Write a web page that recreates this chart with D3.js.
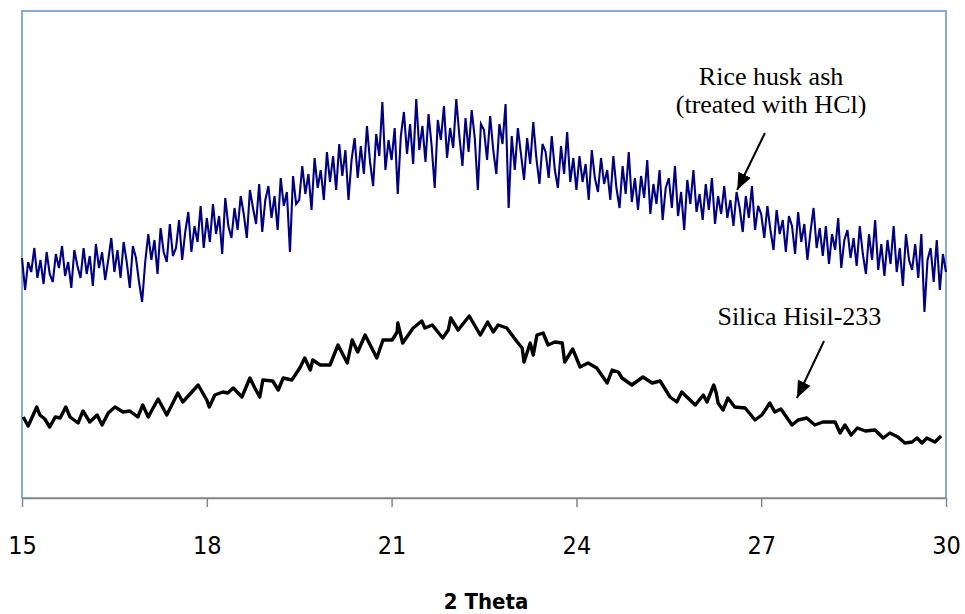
<!DOCTYPE html>
<html>
<head>
<meta charset="utf-8">
<script src="https://cdn.jsdelivr.net/npm/d3@7/dist/d3.min.js"></script>
<style>
  body { margin: 0; background: #fff; }
  .tick text { font-family: "DejaVu Sans Condensed", "DejaVu Sans", sans-serif; font-stretch: condensed; }
</style>
</head>
<body>
<div id="chart"></div>
<script>

// x axis ticks
var xTicks = [15, 18, 21, 24, 27, 30];

// Rice husk ash (treated with HCl) - step scan, 15 to 30 deg, 0.05 step
var rhaStart = 15, rhaStep = 0.05;
var rhaCounts = [
  240, 208, 236, 226, 250, 220, 238, 214, 246, 224,
  216, 244, 230, 252, 222, 236, 210, 248, 232, 220,
  250, 224, 242, 212, 254, 230, 246, 218, 238, 260,
  226, 248, 220, 256, 236, 210, 252, 240, 216, 196,
  236, 264, 238, 258, 224, 270, 246, 236, 274, 242,
  250, 278, 238, 266, 286, 246, 272, 256, 292, 250,
  280, 256, 294, 264, 282, 244, 300, 272, 260, 290,
  268, 302, 284, 260, 308, 290, 274, 314, 266, 298,
  312, 280, 302, 268, 320, 292, 306, 246, 322, 294,
  298, 332, 304, 324, 288, 340, 310, 328, 298, 346,
  316, 342, 308, 354, 322, 348, 298, 338, 360, 320,
  352, 324, 372, 336, 312, 364, 342, 396, 328, 358,
  338, 370, 304, 362, 386, 344, 374, 334, 399, 348,
  372, 336, 384, 352, 310, 378, 358, 392, 340, 370,
  350, 399, 362, 332, 380, 346, 388, 360, 308, 374,
  368, 338, 382, 348, 324, 374, 354, 394, 290, 362,
  328, 370, 344, 318, 360, 334, 376, 340, 314, 354,
  346, 320, 362, 328, 310, 352, 324, 366, 316, 340,
  308, 342, 316, 334, 298, 348, 320, 306, 340, 314,
  328, 298, 342, 310, 290, 332, 304, 346, 296, 320,
  288, 322, 300, 338, 284, 314, 294, 328, 278, 310,
  320, 290, 332, 282, 306, 268, 318, 294, 328, 286,
  304, 278, 314, 288, 320, 274, 302, 284, 312, 280,
  298, 272, 306, 290, 266, 302, 280, 312, 268, 292,
  284, 260, 292, 268, 248, 288, 264, 278, 246, 282,
  272, 244, 286, 256, 274, 238, 266, 290, 250, 270,
  242, 272, 234, 264, 248, 280, 230, 258, 268, 240,
  260, 232, 272, 244, 224, 264, 238, 278, 228, 254,
  222, 258, 234, 272, 226, 250, 212, 264, 238, 228,
  254, 220, 264, 186, 238, 250, 216, 258, 208, 244,
  226
];

// Silica Hisil-233
var hisilTheta = [
  15.02, 15.10, 15.24, 15.29, 15.37, 15.45, 15.54, 15.62, 15.71, 15.78,
  15.91, 15.99, 16.10, 16.22, 16.30, 16.40, 16.51, 16.64, 16.75, 16.88,
  16.96, 17.05, 17.11, 17.21, 17.35, 17.53, 17.61, 17.86, 18.00, 18.04,
  18.13, 18.26, 18.34, 18.43, 18.57, 18.70, 18.78, 18.86, 18.91, 19.07,
  19.16, 19.24, 19.38, 19.51, 19.59, 19.68, 19.72, 19.84, 20.00, 20.13,
  20.28, 20.36, 20.45, 20.57, 20.76, 20.86, 21.01, 21.09, 21.10, 21.18,
  21.35, 21.49, 21.54, 21.66, 21.83, 21.92, 21.96, 22.08, 22.26, 22.44,
  22.56, 22.65, 22.73, 22.87, 23.04, 23.12, 23.15, 23.25, 23.30, 23.36,
  23.46, 23.54, 23.65, 23.77, 23.81, 23.94, 24.06, 24.19, 24.33, 24.50,
  24.58, 24.68, 24.74, 24.90, 25.08, 25.23, 25.36, 25.44, 25.52, 25.63,
  25.71, 25.81, 25.93, 26.06, 26.12, 26.23, 26.27, 26.30, 26.38, 26.46,
  26.57, 26.74, 26.90, 27.01, 27.14, 27.22, 27.32, 27.50, 27.60, 27.74,
  27.87, 28.00, 28.20, 28.28, 28.36, 28.46, 28.56, 28.69, 28.85, 28.98,
  29.09, 29.22, 29.33, 29.45, 29.53, 29.61, 29.69, 29.82, 29.92
];
var hisilCounts = [
  81, 72, 91, 83, 79, 71, 81, 80, 91, 81,
  75, 87, 76, 83, 73, 85, 91, 86, 87, 81,
  93, 81, 88, 99, 83, 105, 96, 113, 98, 91,
  103, 106, 105, 110, 101, 120, 110, 101, 118, 117,
  108, 120, 118, 130, 140, 128, 138, 133, 133, 153,
  135, 158, 146, 163, 140, 158, 158, 166, 175, 155,
  170, 177, 170, 173, 160, 168, 180, 168, 182, 163,
  176, 166, 173, 170, 156, 150, 136, 155, 143, 163,
  165, 153, 156, 155, 136, 149, 131, 135, 130, 115,
  128, 126, 120, 113, 121, 115, 117, 109, 101, 96,
  106, 100, 93, 103, 96, 113, 105, 95, 88, 100,
  91, 90, 78, 83, 95, 86, 89, 73, 78, 80,
  73, 76, 76, 65, 73, 63, 70, 67, 68, 60,
  65, 61, 55, 56, 60, 55, 60, 56, 62
];

var margin = {top: 11, right: 19, bottom: 116, left: 22},
    width = 965 - margin.left - margin.right,
    height = 614 - margin.top - margin.bottom;

var svg = d3.select("#chart")
  .append("svg")
  .attr("width", 965)
  .attr("height", 614)
  .append("g")
  .attr("transform", "translate(" + margin.left + "," + margin.top + ")");

var x = d3.scaleLinear().domain([15, 30]).range([0, width]);
var y = d3.scaleLinear().domain([0, 487]).range([height, 0]);

// plot area frame
svg.append("rect")
  .attr("x", 0)
  .attr("y", 0)
  .attr("width", width)
  .attr("height", height)
  .attr("fill", "none")
  .attr("stroke", "#7ba4d6")
  .attr("stroke-width", 1.8);

var rha = rhaCounts.map(function(c, i) { return {t: rhaStart + i * rhaStep, c: c}; });
var hisil = hisilTheta.map(function(t, i) { return {t: t, c: hisilCounts[i]}; });

var line = d3.line()
  .x(function(d) { return x(d.t); })
  .y(function(d) { return y(d.c); });

svg.append("path")
  .datum(rha)
  .attr("d", line)
  .attr("fill", "none")
  .attr("stroke", "#000080")
  .attr("stroke-width", 2.1);

svg.append("path")
  .datum(hisil)
  .attr("d", line)
  .attr("fill", "none")
  .attr("stroke", "#000")
  .attr("stroke-width", 3.4)
  .attr("stroke-linejoin", "round");

// x axis
var xAxis = svg.append("g")
  .attr("transform", "translate(0," + height + ")")
  .call(d3.axisBottom(x).tickValues(xTicks).tickSize(9).tickPadding(29).tickSizeOuter(0));
xAxis.select(".domain").attr("stroke", "#868686").attr("stroke-width", 1.5);
xAxis.selectAll(".tick line").attr("stroke", "#868686").attr("stroke-width", 1.5);
xAxis.selectAll(".tick text").attr("font-size", 25).attr("fill", "#000");

svg.append("text")
  .attr("x", width / 2 + 2)
  .attr("y", height + 111)
  .attr("text-anchor", "middle")
  .attr("font-family", "'DejaVu Sans Condensed', 'DejaVu Sans', sans-serif")
  .attr("font-stretch", "condensed")
  .attr("font-weight", "bold")
  .attr("font-size", 22)
  .text("2 Theta");

// annotations
var defs = svg.append("defs");
defs.append("marker")
  .attr("id", "arrow")
  .attr("markerUnits", "userSpaceOnUse")
  .attr("viewBox", "0 -7 17 14")
  .attr("refX", 17)
  .attr("refY", 0)
  .attr("markerWidth", 17)
  .attr("markerHeight", 14)
  .attr("orient", "auto")
  .append("path")
  .attr("d", "M0,-7L17,0L0,7Z")
  .attr("fill", "#000");

// white label box that sits over the scan
svg.append("rect")
  .attr("x", x(26.05))
  .attr("y", y(207))
  .attr("width", x(29.6) - x(26.05))
  .attr("height", y(163) - y(207))
  .attr("fill", "#fff");

var serif = "'Liberation Serif', 'Times New Roman', serif";

svg.append("text")
  .attr("x", x(27.16))
  .attr("y", y(413))
  .attr("text-anchor", "middle")
  .attr("font-family", serif)
  .attr("font-size", 26)
  .text("Rice husk ash");

svg.append("text")
  .attr("x", x(27.16))
  .attr("y", y(385))
  .attr("text-anchor", "middle")
  .attr("font-family", serif)
  .attr("font-size", 26)
  .text("(treated with HCl)");

svg.append("text")
  .attr("x", x(27.62))
  .attr("y", y(173))
  .attr("text-anchor", "middle")
  .attr("font-family", serif)
  .attr("font-size", 26)
  .text("Silica Hisil-233");

svg.append("line")
  .attr("x1", x(27.06)).attr("y1", y(365))
  .attr("x2", x(26.61)).attr("y2", y(308))
  .attr("stroke", "#000")
  .attr("stroke-width", 2)
  .attr("marker-end", "url(#arrow)");

svg.append("line")
  .attr("x1", x(28.02)).attr("y1", y(157))
  .attr("x2", x(27.58)).attr("y2", y(100))
  .attr("stroke", "#000")
  .attr("stroke-width", 2)
  .attr("marker-end", "url(#arrow)");

</script>
</body>
</html>
